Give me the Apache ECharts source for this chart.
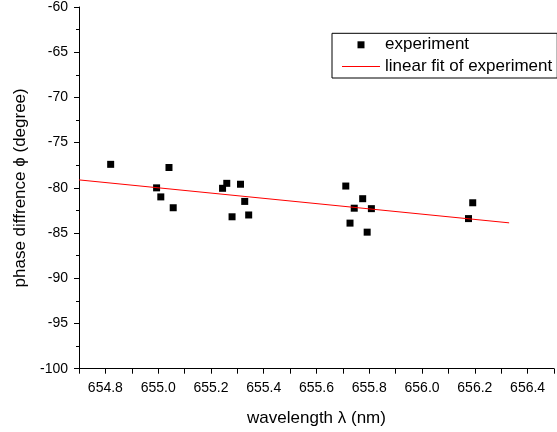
<!DOCTYPE html>
<html>
<head>
<meta charset="utf-8">
<script src="https://cdn.jsdelivr.net/npm/echarts@6/dist/echarts.min.js"></script>
<style>html,body{margin:0;padding:0;background:#fff;}#c{width:557px;height:432px;}</style>
</head>
<body>
<div id="c"></div>
<script>
const expX = [654.82, 654.994, 655.01, 655.041, 655.057, 655.244, 655.26, 655.28, 655.312, 655.328, 655.343, 655.711, 655.727, 655.743, 655.775, 655.792, 655.808, 656.176, 656.192];
const expY = [-77.4, -80.0, -81.0, -77.75, -82.2, -80.05, -79.5, -83.2, -79.6, -81.5, -83.0, -79.8, -83.9, -82.25, -81.2, -84.9, -82.3, -83.4, -81.65];
const fitX = [654.7, 656.33];
const fitY = [-79.12, -83.87];
const seriesNames = ['experiment', 'linear fit of experiment'];
const xAxisName = 'wavelength λ (nm)';
const yAxisName = 'phase diffrence ϕ (degree)';

const font = 'Liberation Sans, Arial, sans-serif';
const chart = echarts.init(document.getElementById('c'), null, {renderer: 'canvas'});
chart.setOption({
  animation: false,
  backgroundColor: '#fff',
  textStyle: {fontFamily: font},
  grid: {left: 79, top: 6.7, bottom: 63.3, right: -7.3, containLabel: false},
  legend: {
    orient: 'vertical',
    left: 332, top: 33.3,
    borderColor: '#000', borderWidth: 1,
    padding: [2, 5, 2, 10],
    itemWidth: 38, itemHeight: 7, itemGap: 2.7,
    textStyle: {fontSize: 17, color: '#000', fontFamily: font, lineHeight: 19},
    data: [
      {name: seriesNames[0], icon: 'path://M0,0H10V10H0Z', itemStyle: {color: '#000', opacity: 1}},
      {name: seriesNames[1], icon: 'path://M0,0H38V1H0Z', itemStyle: {color: '#ff0000', opacity: 1}}
    ]
  },
  xAxis: {
    type: 'value', min: 654.7, max: 656.5, interval: 0.1,
    name: xAxisName, nameLocation: 'middle', nameGap: 41,
    nameTextStyle: {fontSize: 17, color: '#000', fontFamily: font},
    axisLine: {show: true, onZero: false, lineStyle: {color: '#000', width: 1}},
    axisTick: {show: true, inside: false, length: 5, lineStyle: {color: '#000'}},
    splitLine: {show: false},
    axisLabel: {
      fontSize: 14, color: '#000', fontFamily: font, margin: 12,
      showMinLabel: true, showMaxLabel: true,
      formatter: function (v) {
        const k = Math.round(v * 10);
        return (k % 2 === 0) ? v.toFixed(1) : '';
      }
    }
  },
  yAxis: {
    type: 'value', min: -100, max: -60, interval: 5,
    name: yAxisName, nameLocation: 'middle', nameGap: 50,
    nameTextStyle: {fontSize: 17, color: '#000', fontFamily: font},
    axisLine: {show: true, onZero: false, lineStyle: {color: '#000', width: 1}},
    axisTick: {show: true, inside: false, length: 5, lineStyle: {color: '#000'}},
    minorTick: {show: true, splitNumber: 2, length: 3, lineStyle: {color: '#000'}},
    splitLine: {show: false},
    axisLabel: {fontSize: 14, color: '#000', fontFamily: font, margin: 11}
  },
  series: [
    {
      name: seriesNames[0], type: 'scatter', symbol: 'rect', symbolSize: 7,
      itemStyle: {color: '#000', opacity: 1},
      data: expX.map((x, i) => [x, expY[i]])
    },
    {
      name: seriesNames[1], type: 'line', symbol: 'none', showSymbol: false,
      lineStyle: {color: '#ff0000', width: 1}, itemStyle: {color: '#ff0000'},
      data: fitX.map((x, i) => [x, fitY[i]])
    }
  ]
});
</script>
</body>
</html>
